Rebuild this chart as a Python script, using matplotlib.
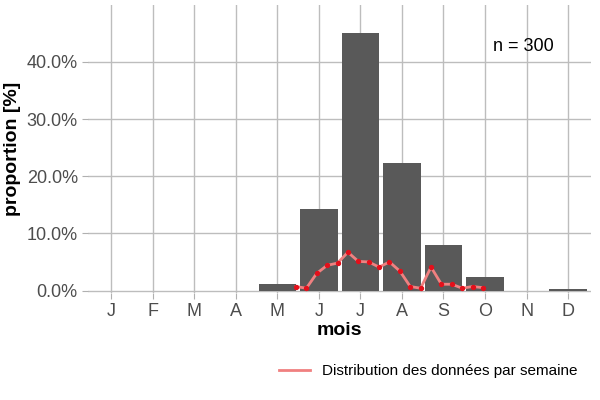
import matplotlib
matplotlib.use("Agg")
import matplotlib.pyplot as plt
from matplotlib.ticker import FuncFormatter
import numpy as np

months = ["J","F","M","A","M","J","J","A","S","O","N","D"]
month_props = [0,0,0,0,1.2,14.3,45.0,22.3,7.9,2.3,0,0.3]
week_pos = [5.45,5.7,5.95,6.2,6.45,6.7,6.95,7.2,7.45,7.7,7.95,8.2,8.45,8.7,8.95,9.2,9.45,9.7,9.95]
week_props = [0.7,0.4,3.0,4.4,4.8,6.7,5.1,5.0,4.1,5.0,3.4,0.7,0.4,4.1,1.1,1.1,0.4,0.7,0.5]

plt.rcParams['font.family'] = ['Liberation Sans', 'DejaVu Sans']
fig = plt.figure(figsize=(6,4), dpi=100)
ax = fig.add_axes([0.147, 0.268, 0.838, 0.72])
x = np.arange(1,13)
ax.bar(x, month_props, width=0.9, color='#595959', zorder=2)
ax.plot(week_pos, week_props, color='#f08080', lw=2, zorder=3, label='Distribution des données par semaine')
ax.scatter(week_pos, week_props, color='#e3101b', s=8, zorder=4)
ax.set_xticks(x)
ax.set_xticklabels(months, fontsize=13, color='#4d4d4d')
ax.set_xlim(0.45, 12.55)
ax.set_ylim(-0.4, 50)
ax.set_yticks([0,10,20,30,40])
ax.yaxis.set_major_formatter(FuncFormatter(lambda v,p: f"{v:.1f}%"))
ax.tick_params(axis='y', labelsize=13, colors='#4d4d4d')
ax.tick_params(length=4, color='#b0b0b0')
ax.grid(True, color='#bdbdbd', lw=1, zorder=0)
for s in ax.spines.values():
    s.set_visible(False)
ax.set_xlabel('mois', fontsize=14, fontweight='bold', labelpad=1)
ax.set_ylabel('proportion [%]', fontsize=14, fontweight='bold')
ax.text(0.865, 0.855, 'n = 300', transform=ax.transAxes, ha='center', va='center', fontsize=13)
fig.legend(loc='lower right', bbox_to_anchor=(0.985, 0.02), frameon=False, fontsize=11)
fig.savefig('out.png')
